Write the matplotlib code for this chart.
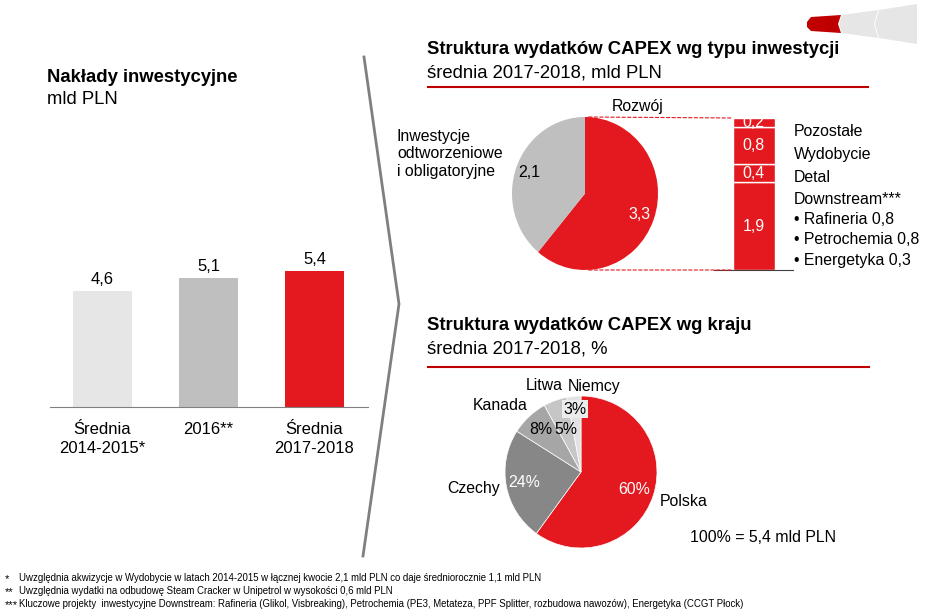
import numpy as np
import matplotlib.pyplot as plt
from matplotlib.patches import ConnectionPatch, Polygon

plt.rcParams['font.family'] = ['Liberation Sans', 'DejaVu Sans']

W, H = 927, 610
RED = '#e3191f'

# left chart: Nakłady inwestycyjne, mld PLN
bar_labels = ['Średnia\n2014-2015*', '2016**', 'Średnia\n2017-2018']
bar_values = [4.6, 5.1, 5.4]
bar_colors = ['#e6e6e6', '#bfbfbf', RED]

# CAPEX by investment type, mld PLN
type_values = [3.3, 2.1]          # Rozwój, Inwestycje odtworzeniowe
type_colors = [RED, '#bfbfbf']
# breakdown of Rozwój (bottom to top)
dev_values = [1.9, 0.4, 0.8, 0.2]  # Downstream, Detal, Wydobycie, Pozostałe

# CAPEX by country, %
country_names = ['Polska', 'Czechy', 'Kanada', 'Litwa', 'Niemcy']
country_pct = [60, 24, 8, 5, 3]
country_colors = [RED, '#878787', '#a6a6a6', '#c6c6c6', '#e2e2e2']

footnotes = [
    ('*', 'Uwzględnia akwizycje w Wydobycie w latach 2014-2015 w łącznej kwocie 2,1 mld PLN co daje średniorocznie 1,1 mld PLN'),
    ('**', 'Uwzględnia wydatki na odbudowę Steam Cracker w Unipetrol w wysokości 0,6 mld PLN'),
    ('***', 'Kluczowe projekty  inwestycyjne Downstream: Rafineria (Glikol, Visbreaking), Petrochemia (PE3, Metateza, PPF Splitter, rozbudowa nawozów), Energetyka (CCGT Płock)'),
]

TITLE = 13.3
BODY = 11.4
NARROW = ['Liberation Sans Narrow', 'Liberation Sans']


def pl(v):
    return f'{v:.1f}'.replace('.', ',')


def box(x0, y0, x1, y1):
    # pixel rectangle (top-left origin) -> figure fraction
    return [x0 / W, 1 - y1 / H, (x1 - x0) / W, (y1 - y0) / H]


fig = plt.figure(figsize=(W / 100, H / 100), dpi=100)

# overlay in pixel coordinates for texts and decoration
ov = fig.add_axes([0, 0, 1, 1])
ov.set_xlim(0, W)
ov.set_ylim(H, 0)
ov.axis('off')

# left title
ov.text(47, 77, 'Nakłady inwestycyjne', fontsize=TITLE, fontweight='bold', va='center')
ov.text(47, 100, 'mld PLN', fontsize=TITLE, va='center')

# chevron separator
ov.plot([364, 399, 363], [57, 304, 556], color='#7f7f7f', lw=2, solid_joinstyle='miter')

# header decoration
ov.add_patch(Polygon([(807, 22), (811, 17), (841, 15), (838, 24), (841, 33), (811, 31), (807, 27)],
                     closed=True, color='#c00000', lw=0))
ov.add_patch(Polygon([(842, 15), (878, 10), (874, 24), (878, 38), (842, 33), (839, 24)],
                     closed=True, color='#e6e6e6', lw=0))
ov.add_patch(Polygon([(879, 10), (917, 4), (917, 44), (879, 38), (875, 24)],
                     closed=True, color='#e6e6e6', lw=0))

# bar chart
ax = fig.add_axes(box(50, 240, 368, 407))
bars = ax.bar(range(len(bar_values)), bar_values, width=0.56, color=bar_colors)
ax.bar_label(bars, labels=[pl(v) for v in bar_values], padding=3, fontsize=12)
ax.set_xlim(-0.495, 2.505)
ax.set_ylim(0, 167 / 25.2)
ax.set_xticks(range(len(bar_values)), bar_labels)
ax.tick_params(axis='x', length=0, pad=11, labelsize=12)
for lab in ax.get_xticklabels():
    lab.set_linespacing(1.3)
ax.set_yticks([])
for s in ['top', 'right', 'left']:
    ax.spines[s].set_visible(False)
ax.spines['bottom'].set_color('#808080')
ax.patch.set_alpha(0)

# right top: by type
ov.text(427, 49, 'Struktura wydatków CAPEX wg typu inwestycji', fontsize=TITLE, fontweight='bold', va='center')
ov.text(427, 73, 'średnia 2017-2018, mld PLN', fontsize=TITLE, va='center')
ov.plot([428, 868], [87, 87], color='#c00000', lw=1.5)

ax1 = fig.add_axes(box(512, 117, 658, 270))
wedges, _ = ax1.pie(type_values, colors=type_colors, startangle=90, counterclock=False)
ax1.set_aspect('auto')
ax1.set_xlim(-1, 1)
ax1.set_ylim(-1, 1)
for w, v, r, c in zip(wedges, type_values, [0.8, 0.82], ['white', 'black']):
    a = np.deg2rad((w.theta1 + w.theta2) / 2)
    ax1.text(r * np.cos(a), r * np.sin(a), pl(v), color=c, fontsize=BODY, ha='center', va='center')

ov.text(638, 106, 'Rozwój', fontsize=BODY, ha='center', va='center')
ov.text(397, 154, 'Inwestycje\nodtworzeniowe\ni obligatoryjne', fontsize=BODY, va='center', linespacing=1.2)

ax2 = fig.add_axes(box(714, 118, 793, 270))
bottom = 0
segs = []
for v in dev_values:
    segs.append(ax2.bar(0.5, v, width=42 / 79, bottom=bottom, color=RED, edgecolor='white', lw=1))
    bottom += v
for s, v in zip(segs, dev_values):
    ax2.bar_label(s, labels=[pl(v)], label_type='center', color='white', fontsize=BODY)
ax2.set_xlim(0, 1)
ax2.set_ylim(0, sum(dev_values))
ax2.set_xticks([])
ax2.set_yticks([])
for s in ['top', 'right', 'left']:
    ax2.spines[s].set_visible(False)
ax2.spines['bottom'].set_color('#404040')
ax2.patch.set_alpha(0)

for ya, yb in [(1, sum(dev_values)), (-1, 0)]:
    con = ConnectionPatch(xyA=(0.05, ya), coordsA=ax1.transData, xyB=(0.24, yb), coordsB=ax2.transData,
                          color=RED, lw=0.8, linestyle=(0, (3, 2)))
    fig.add_artist(con)

right_lines = [('Pozostałe', 132), ('Wydobycie', 154), ('Detal', 177), ('Downstream***', 199),
               ('• Rafineria 0,8', 220), ('• Petrochemia 0,8', 240), ('• Energetyka 0,3', 260)]
for t, y in right_lines:
    ov.text(794, y, t, fontsize=BODY, va='center')

# right bottom: by country
ov.text(427, 325, 'Struktura wydatków CAPEX wg kraju', fontsize=TITLE, fontweight='bold', va='center')
ov.text(427, 349, 'średnia 2017-2018, %', fontsize=TITLE, va='center')
ov.plot([428, 869], [367, 367], color='#c00000', lw=1.5)

ax3 = fig.add_axes(box(505, 396, 657, 548))
wedges2, _ = ax3.pie(country_pct, colors=country_colors, startangle=90, counterclock=False,
                     wedgeprops=dict(edgecolor='white', lw=0.5))
ax3.set_xlim(-1, 1)
ax3.set_ylim(-1, 1)
pct_r = [0.74, 0.76, 0.77, 0.6, 0.83]
pct_c = ['white', 'white', 'black', 'black', 'black']
for i, (w, p) in enumerate(zip(wedges2, country_pct)):
    a = np.deg2rad((w.theta1 + w.theta2) / 2)
    kw = {}
    if i == len(country_pct) - 1:
        kw['bbox'] = dict(facecolor='#ececec', edgecolor='none', pad=1)
    ax3.text(pct_r[i] * np.cos(a), pct_r[i] * np.sin(a), f'{p}%', color=pct_c[i],
             fontsize=BODY, ha='center', va='center', **kw)

name_pos = [(660, 502, 'left'), (500, 488, 'right'), (528, 405, 'right'), (526, 386, 'left'), (568, 386, 'left')]
for n, (x, y, ha) in zip(country_names, name_pos):
    ov.text(x, y, n, fontsize=BODY, ha=ha, va='center')
ov.text(690, 537, '100% = 5,4 mld PLN', fontsize=BODY, va='center')

# footnotes
for (star, txt), y in zip(footnotes, [578, 591, 604]):
    ov.text(5, y + 1, star, fontsize=8, va='center', family=NARROW)
    ov.text(19, y, txt, fontsize=6.9, va='center', family=NARROW)

fig.savefig('out.png', dpi=100)
